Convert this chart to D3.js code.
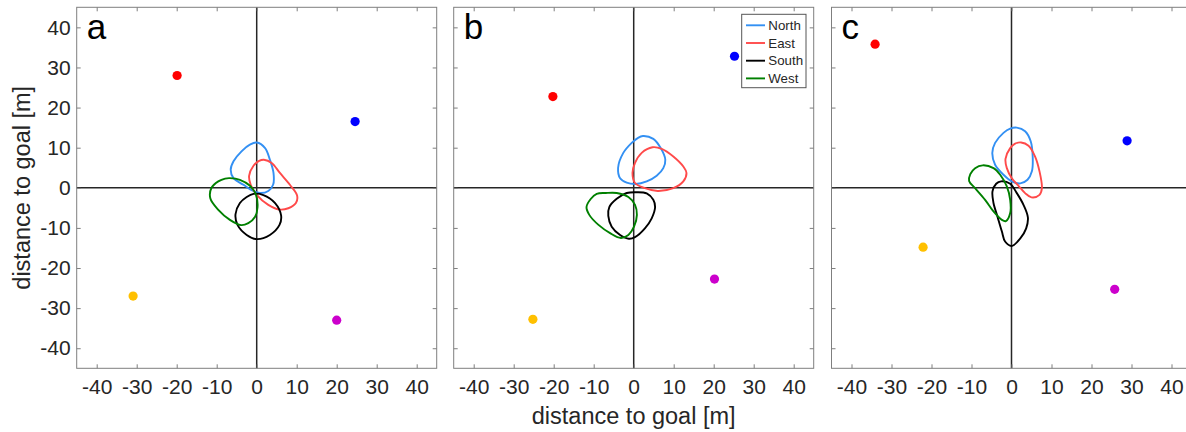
<!DOCTYPE html>
<html>
<head>
<meta charset="utf-8">
<script src="https://cdn.jsdelivr.net/npm/d3@7"></script>
<style>
  html, body { margin: 0; padding: 0; background: #fff; }
  svg { display: block; font-family: "Liberation Sans", Arial, sans-serif; }
</style>
</head>
<body>
<svg id="chart" width="1186" height="432"></svg>
<script>
// ---------- data ----------
const panelLabels = ["a", "b", "c"];
const seriesNames = ["North", "East", "South", "West"];
const seriesColors = ["#3390f3", "#ff4a4a", "#000000", "#008000"];
const tickValues = [-40, -30, -20, -10, 0, 10, 20, 30, 40];
const axisDomain = [-45, 45];
const axisLabel = "distance to goal [m]";

// goal markers per panel: [x, y]
const goalColors = ["#ff0000", "#0000ff", "#ffc000", "#cc00cc"];
const goalsA = [[-19.9, 28.0], [24.6, 16.5], [-30.9, -27.0], [20.0, -33.0]];
const goalsB = [[-20.2, 22.75], [25.2, 32.8], [-25.2, -32.8], [20.2, -22.75]];
const goalsC = [[-34.1, 35.8], [28.9, 11.7], [-22.1, -14.8], [25.8, -25.3]];

// contour outlines (closed curves), panel a
const northA = [[0, 11.3], [2.1, 9.9], [3.3, 7], [4.2, 3.7], [4.1, 0.75], [2.9, -0.8], [0.8, -1.3], [-1.25, -0.6], [-3.3, 0.75], [-5.8, 2.4], [-6.5, 4.5], [-5.8, 6.6], [-3.8, 9.1], [-1.7, 10.75]];
const eastA = [[1.8, 7.0], [3.75, 6.2], [5.8, 3.7], [8.3, 0.75], [10.1, -1.9], [9.8, -3.8], [7.9, -5.1], [5.6, -5.4], [2.9, -4.25], [0, -1.75], [-1.5, 0.75], [-1.9, 3.0], [-0.8, 5.5], [0.6, 6.7]];
const southA = [[-0.8, -1.5], [1.67, -1.8], [4.6, -3.8], [6.1, -6.9], [5.7, -9.25], [3.3, -11.75], [0, -12.8], [-2.5, -11.75], [-4.8, -9.25], [-5.3, -6.6], [-4.2, -3.8], [-2.5, -2.3]];
const westA = [[-6.7, 2.4], [-4.2, 2.0], [-1.67, 0.5], [-0.17, -1.75], [0.2, -4.9], [-0.4, -7.2], [-2.1, -8.8], [-3.9, -9.3], [-6.7, -8.0], [-9.6, -5.5], [-11.6, -2.6], [-11.3, 0], [-9.6, 1.6], [-7.9, 2.3]];

// panel b
const northB = [[2.3, 12.9], [4.9, 12.2], [6.75, 9.9], [7.9, 7], [7.4, 4.9], [5.75, 3], [3.25, 1.6], [0.5, 0.95], [-1.75, 1.3], [-3.4, 2.4], [-3.9, 5.0], [-2.6, 8.7], [-0.5, 11.2], [1.0, 12.4]];
const eastB = [[4.7, 10.1], [7, 9.7], [9.9, 7.8], [12.4, 5.3], [13.2, 3.7], [12.4, 1.6], [9.9, -0.1], [6.0, -0.8], [2.8, -0.1], [0.33, 1.2], [-0.3, 3.7], [0.33, 6.2], [2, 8.7]];
const southB = [[0.75, -1.1], [3.25, -1.4], [4.9, -3], [5.35, -4.8], [4.5, -7.6], [2.8, -10.1], [0.33, -12.3], [-1.2, -12.7], [-3.4, -11.75], [-5.5, -9.7], [-6.35, -7.0], [-6.1, -4.8], [-4.25, -2.75], [-1.75, -1.3]];
const westB = [[-7.0, -1.3], [-4.25, -1.3], [-1.33, -2.3], [0.33, -4.25], [0.8, -6.75], [0.08, -9.7], [-1.33, -11.75], [-3.2, -12.5], [-5.9, -11.3], [-8.8, -9.25], [-11.1, -6.75], [-11.8, -4.8], [-10.75, -2.8], [-9.25, -1.5]];

// panel c
const northC = [[1.33, 15.0], [3.4, 14.1], [4.8, 11.6], [5.3, 7.8], [5.1, 4.1], [4, 2], [2.2, 1.1], [0.08, 1.6], [-2, 3.25], [-4.1, 5.75], [-4.8, 8.7], [-4.1, 11.2], [-2, 13.7], [-0.33, 14.75]];
const eastC = [[2.4, 11.3], [4.25, 10.5], [5.9, 7.8], [7, 4.1], [7.6, -0.1], [7, -1.75], [5.0, -2.4], [3.4, -1.33], [1.75, 0.5], [0.08, 2.4], [-1.17, 4.9], [-1.5, 7.2], [-0.33, 9.9], [0.9, 11.0]];
const southC = [[-2.6, 1.6], [-0.33, 1], [1.33, -1.33], [3, -4.25], [4.1, -7.4], [3.67, -10.1], [2.2, -12.6], [0.05, -14.5], [-1.6, -13.4], [-2.4, -10.9], [-3.5, -7.2], [-4.5, -3.8], [-4.75, -0.9], [-3.83, 1]];
const westC = [[-7.2, 5.6], [-4.5, 4.9], [-2.83, 3.25], [-1.17, 0.33], [-0.33, -3], [-0.33, -6.3], [-1.4, -8.3], [-2.4, -8.0], [-4.5, -5.9], [-6.6, -3], [-9.1, -0.1], [-10.6, 1.7], [-10.3, 3.4], [-9.1, 4.9]];

// ---------- assemble ----------
const panels = [
  { label: panelLabels[0], goals: goalsA, contours: [northA, eastA, southA, westA] },
  { label: panelLabels[1], goals: goalsB, contours: [northB, eastB, southB, westB] },
  { label: panelLabels[2], goals: goalsC, contours: [northC, eastC, southC, westC] }
];

// ---------- layout ----------
const panelLeft = [76.7, 453.7, 831.5];
const panelW = 360;
const panelTop = 7.3;
const panelH = 361;
const tickColor = "#262626";
const boxColor = "#7f7f7f";
const fontTick = 21;

const svg = d3.select("#chart");

panels.forEach((p, i) => {
  const x0 = panelLeft[i];
  const x = d3.scaleLinear().domain(axisDomain).range([x0, x0 + panelW]);
  const y = d3.scaleLinear().domain(axisDomain).range([panelTop + panelH, panelTop]);
  const g = svg.append("g");

  // crosshair
  g.append("line").attr("x1", x(axisDomain[0])).attr("x2", x(axisDomain[1]))
    .attr("y1", y(0)).attr("y2", y(0)).attr("stroke", "#262626").attr("stroke-width", 1.5);
  g.append("line").attr("x1", x(0)).attr("x2", x(0))
    .attr("y1", y(axisDomain[0])).attr("y2", y(axisDomain[1])).attr("stroke", "#262626").attr("stroke-width", 1.5);

  // axes (ticks inward on all four sides)
  const fmt = d => String(d);
  const bottom = g.append("g").attr("transform", `translate(0,${panelTop + panelH})`)
    .call(d3.axisBottom(x).tickValues(tickValues).tickSizeInner(-4).tickSizeOuter(0).tickPadding(11).tickFormat(fmt));
  const top = g.append("g").attr("transform", `translate(0,${panelTop})`)
    .call(d3.axisTop(x).tickValues(tickValues).tickSizeInner(-4).tickSizeOuter(0).tickFormat(""));
  const left = g.append("g").attr("transform", `translate(${x0},0)`)
    .call(d3.axisLeft(y).tickValues(tickValues).tickSizeInner(-4).tickSizeOuter(0).tickPadding(6).tickFormat(i === 0 ? fmt : ""));
  const right = g.append("g").attr("transform", `translate(${x0 + panelW},0)`)
    .call(d3.axisRight(y).tickValues(tickValues).tickSizeInner(-4).tickSizeOuter(0).tickFormat(""));
  [bottom, top, left, right].forEach(a => {
    a.select(".domain").remove();
    a.selectAll(".tick line").attr("stroke", boxColor);
    a.selectAll(".tick text").attr("fill", tickColor).style("font-size", fontTick + "px")
      .style("font-family", "'Liberation Sans', Arial, sans-serif");
  });
  bottom.selectAll(".tick text").attr("dy", "0.71em");

  // box
  g.append("rect").attr("x", x0).attr("y", panelTop).attr("width", panelW).attr("height", panelH)
    .attr("fill", "none").attr("stroke", boxColor).attr("stroke-width", 1);

  // contours
  const line = d3.line().x(d => x(d[0])).y(d => y(d[1])).curve(d3.curveCatmullRomClosed.alpha(0.5));
  p.contours.forEach((c, k) => {
    g.append("path").attr("d", line(c)).attr("fill", "none")
      .attr("stroke", seriesColors[k]).attr("stroke-width", 1.9).attr("stroke-linejoin", "round");
  });

  // goals
  g.selectAll("circle.goal").data(p.goals).join("circle").attr("class", "goal")
    .attr("cx", d => x(d[0])).attr("cy", d => y(d[1])).attr("r", 4.6)
    .attr("fill", (d, k) => goalColors[k]);

  // panel letter
  g.append("text").attr("x", x0 + 10).attr("y", panelTop + 32)
    .attr("fill", "#000").style("font-size", "35px").text(p.label);

  // x label under middle panel
  if (i === 1) {
    g.append("text").attr("x", x(0)).attr("y", 424).attr("text-anchor", "middle")
      .attr("fill", tickColor).style("font-size", "23.5px").text(axisLabel);
    // legend
    const lg = g.append("g");
    lg.append("rect").attr("x", 741.7).attr("y", 14.3).attr("width", 64.3).attr("height", 73.4)
      .attr("fill", "#fff").attr("stroke", "#555").attr("stroke-width", 1);
    seriesNames.forEach((n, k) => {
      const yy = 25.3 + k * 17.7;
      lg.append("line").attr("x1", 746).attr("x2", 765).attr("y1", yy).attr("y2", yy)
        .attr("stroke", seriesColors[k]).attr("stroke-width", 1.9);
      lg.append("text").attr("x", 768.3).attr("y", yy).attr("dy", "0.36em")
        .attr("fill", tickColor).style("font-size", "13.3px").text(n);
    });
  }
  if (i === 0) {
    g.append("text").attr("transform", `translate(30,${y(0)}) rotate(-90)`)
      .attr("text-anchor", "middle").attr("fill", tickColor).style("font-size", "23.5px").text(axisLabel);
  }
});
</script>
</body>
</html>
